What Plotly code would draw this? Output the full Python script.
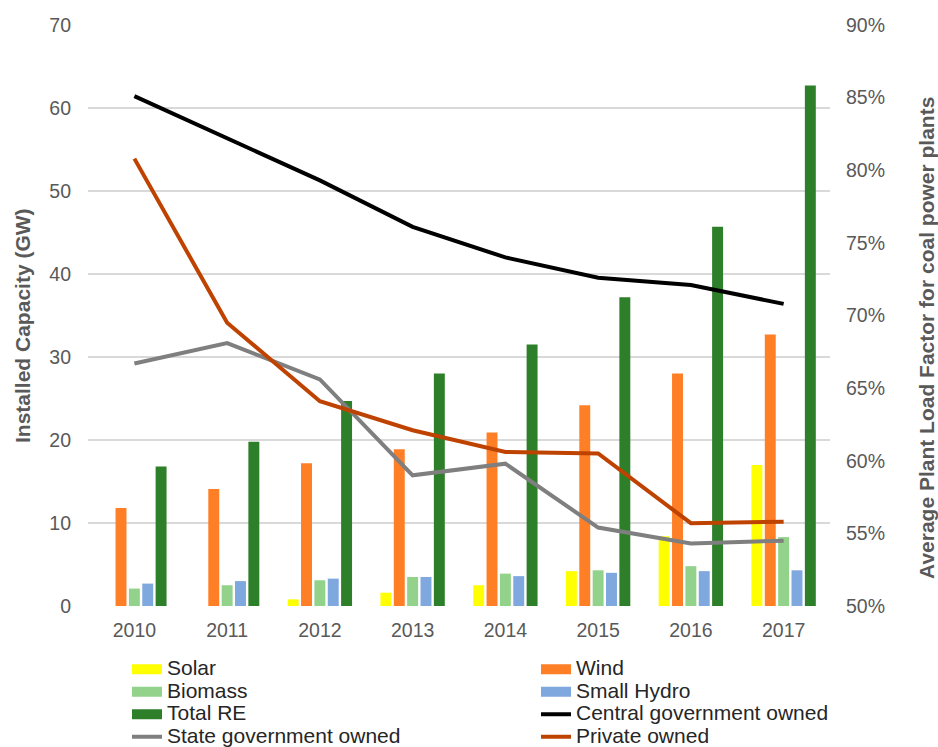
import plotly.graph_objects as go

years = ["2010", "2011", "2012", "2013", "2014", "2015", "2016", "2017"]

# Installed capacity (GW)
solar = [0.0, 0.0, 0.8, 1.6, 2.5, 4.2, 8.4, 17.0]
wind = [11.8, 14.1, 17.2, 18.9, 20.9, 24.2, 28.0, 32.7]
biomass = [2.1, 2.5, 3.1, 3.5, 3.9, 4.3, 4.8, 8.3]
small_hydro = [2.7, 3.0, 3.3, 3.5, 3.6, 4.0, 4.2, 4.3]
total_re = [16.8, 19.8, 24.7, 28.0, 31.5, 37.2, 45.7, 62.7]

# Average plant load factor of coal power plants
central_plf = [0.851, 0.822, 0.793, 0.761, 0.740, 0.726, 0.721, 0.708]
state_plf = [0.667, 0.681, 0.656, 0.590, 0.598, 0.554, 0.543, 0.545]
private_plf = [0.808, 0.695, 0.641, 0.621, 0.606, 0.605, 0.557, 0.558]

TEXT = "#595959"
GRID = "#D9D9D9"
FONT = "Liberation Sans, Arial, sans-serif"
LEG_TEXT = "<span style='font-size:21px'>%s</span>"

fig = go.Figure()

# (name, values, colour, legend column)
bars = [
    ("Solar", solar, "#FFFF00", "legend"),
    ("Wind", wind, "#FF7F27", "legend2"),
    ("Biomass", biomass, "#92D28A", "legend"),
    ("Small Hydro", small_hydro, "#7FA8DF", "legend2"),
    ("Total RE", total_re, "#2E7F29", "legend"),
]
for name, vals, color, leg in bars:
    fig.add_trace(go.Bar(x=years, y=vals, name=name, marker_color=color,
                         marker_line_width=0, yaxis="y", showlegend=False))

# wide rectangular legend keys for the bar series
for name, vals, color, leg in bars:
    fig.add_trace(go.Scatter(x=[None], y=[None], mode="lines",
                             name=LEG_TEXT % name, legend=leg,
                             line=dict(color=color, width=10), yaxis="y"))

lines = [
    ("Central government owned", central_plf, "#000000", "legend2"),
    ("State government owned", state_plf, "#7F7F7F", "legend"),
    ("Private owned", private_plf, "#BF4300", "legend2"),
]
for name, vals, color, leg in lines:
    fig.add_trace(go.Scatter(x=years, y=vals, name=LEG_TEXT % name, mode="lines",
                             legend=leg, line=dict(color=color, width=4),
                             yaxis="y2"))

legend_style = dict(
    orientation="v", xref="container", yref="container",
    y=1 - 653 / 747, xanchor="left", yanchor="top",
    font=dict(family=FONT, size=15, color="#262626"),
    itemwidth=30, traceorder="normal", bgcolor="rgba(0,0,0,0)",
)

fig.update_layout(
    width=938, height=747,
    margin=dict(l=88, r=108, t=25, b=141, autoexpand=False),
    plot_bgcolor="white", paper_bgcolor="white",
    font=dict(family=FONT, color=TEXT, size=19.5),
    barmode="group", bargap=0.28, bargroupgap=0.18,
    showlegend=True,
    legend=dict(x=127 / 938, **legend_style),
    legend2=dict(x=536 / 938, **legend_style),
    xaxis=dict(showgrid=False, showline=False, ticks="", automargin=False,
               tickfont=dict(size=19.5, color=TEXT), ticklabelstandoff=10),
    yaxis=dict(range=[0, 70], dtick=10, showgrid=True, gridcolor=GRID,
               gridwidth=1.5, zeroline=False, showline=False, automargin=False,
               tickfont=dict(size=19.5, color=TEXT), ticklabelstandoff=16),
    yaxis2=dict(range=[0.5, 0.9], dtick=0.05, tickformat=".0%",
                overlaying="y", side="right", showgrid=False, automargin=False,
                zeroline=False, showline=False,
                tickfont=dict(size=19.5, color=TEXT), ticklabelstandoff=15),
)

# axis titles
fig.add_annotation(text="<b>Installed Capacity (GW)</b>", textangle=-90,
                   xref="paper", yref="paper", x=(22 - 88) / 742,
                   y=(606 - 326) / 581, xanchor="center", yanchor="middle",
                   showarrow=False, font=dict(family=FONT, size=21, color=TEXT))
fig.add_annotation(text="<b>Average Plant Load Factor for coal power plants</b>",
                   textangle=-90, xref="paper", yref="paper",
                   x=(926 - 88) / 742, y=(606 - 338) / 581,
                   xanchor="center", yanchor="middle", showarrow=False,
                   font=dict(family=FONT, size=21, color=TEXT))

fig.write_html("out.html")
